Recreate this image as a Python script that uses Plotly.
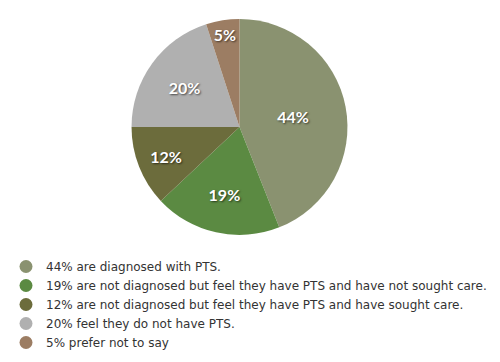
import plotly.graph_objects as go

labels = [
    "44% are diagnosed with PTS.",
    "19% are not diagnosed but feel they have PTS and have not sought care.",
    "12% are not diagnosed but feel they have PTS and have sought care.",
    "20% feel they do not have PTS.",
    "5% prefer not to say",
]
values = [44, 19, 12, 20, 5]
colors = ["#8a9270", "#5b8a42", "#6c6c3c", "#b0b0b0", "#9c7d63"]

fig = go.Figure()
fig.add_trace(go.Pie(
    labels=labels, values=values, sort=False, direction="clockwise", rotation=0,
    marker=dict(colors=colors, line=dict(width=0)),
    texttemplate="%{value}%", textposition="inside", insidetextorientation="horizontal",
    textfont=dict(family="Lato", size=16, color="white", weight="bold",
                  shadow="1px 1px 2px rgba(0,0,0,0.6)"),
    hoverinfo="label", showlegend=False,
    domain=dict(x=[0.263, 0.695], y=[0.351, 0.9475]),
))
for lab, col in zip(labels, colors):
    fig.add_trace(go.Scatter(x=[None], y=[None], mode="markers", name=lab,
                             marker=dict(symbol="circle", size=13, color=col)))

fig.update_layout(
    width=500, height=362, margin=dict(l=0, r=0, t=0, b=0),
    paper_bgcolor="white", plot_bgcolor="white",
    xaxis=dict(visible=False), yaxis=dict(visible=False),
    legend=dict(x=0.012, y=(362 - 252) / 362, xanchor="left", yanchor="top",
                font=dict(family="DejaVu Sans", size=12, color="#333333"),
                tracegroupgap=0, itemwidth=30, bgcolor="rgba(0,0,0,0)"),
    showlegend=True,
)
fig.write_html("out.html", config={"displayModeBar": False},
               post_script="document.body.style.margin='0';")
